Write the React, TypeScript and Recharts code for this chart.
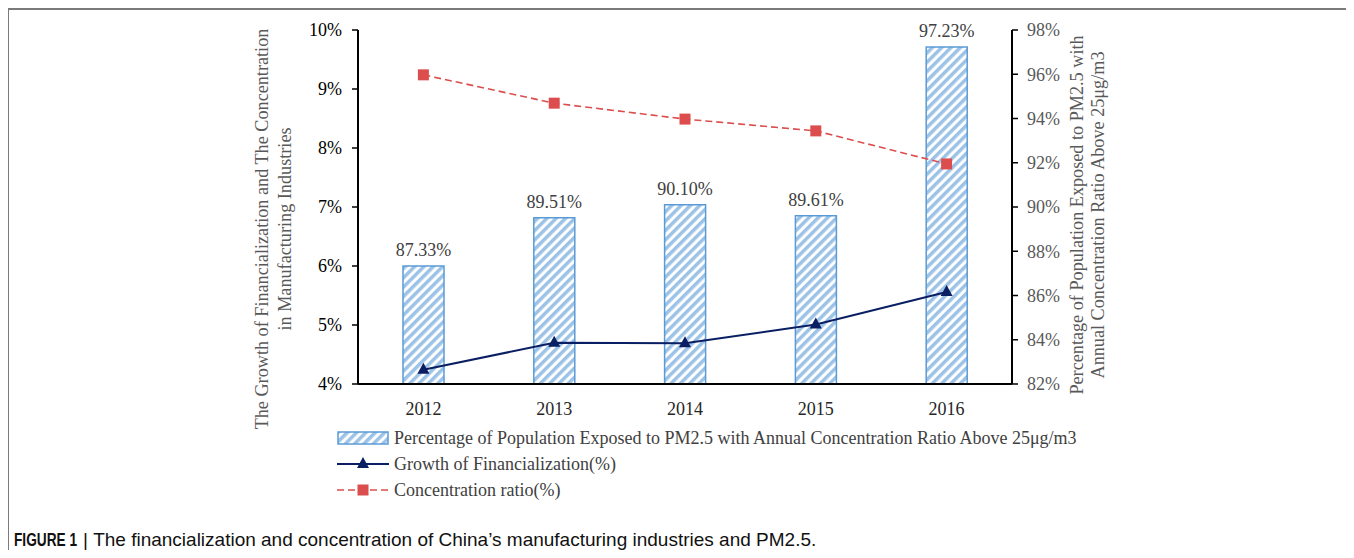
import React from 'react';
import { ComposedChart, Bar, Line, XAxis, YAxis, LabelList } from 'recharts';

const years = ['2012', '2013', '2014', '2015', '2016'];
const pm25Share = [87.33, 89.51, 90.1, 89.61, 97.23];
const financialGrowth = [4.24, 4.7, 4.69, 5.01, 5.56];
const concentrationRatio = [9.24, 8.76, 8.49, 8.29, 7.73];
const leftTicks = [4, 5, 6, 7, 8, 9, 10];
const rightTicks = [82, 84, 86, 88, 90, 92, 94, 96, 98];

const data = years.map((y, i) => ({
  year: y,
  pm: pm25Share[i],
  growth: financialGrowth[i],
  conc: concentrationRatio[i],
}));

const SERIF = '"Liberation Serif", "Times New Roman", serif';
const BAR_STROKE = '#5B9BD5';
const STRIPE = '#9CC3E7';
const NAVY = '#0A1F63';
const RED = '#DC4E4E';

const Triangle = (props: any) => {
  const { cx, cy } = props;
  if (cx == null || cy == null) return null;
  return <polygon points={`${cx},${cy - 7} ${cx + 6},${cy + 4} ${cx - 6},${cy + 4}`} fill={NAVY} />;
};

const Square = (props: any) => {
  const { cx, cy } = props;
  if (cx == null || cy == null) return null;
  return <rect x={cx - 5.5} y={cy - 5.5} width={11} height={11} fill={RED} />;
};

export default function App() {
  return (
    <div style={{ position: 'relative', width: 1338, height: 542, fontFamily: SERIF }}>
      <div
        style={{
          position: 'absolute',
          left: -1,
          top: 0,
          width: 1344,
          height: 560,
          borderTop: '2px solid #7a7a7a',
          borderLeft: '2px solid #7a7a7a',
          borderRight: '2px solid #7a7a7a',
          boxSizing: 'border-box',
        }}
      />
      <div style={{ position: 'absolute', left: 0, top: 0 }}>
        <ComposedChart width={1338} height={420} data={data} margin={{ top: 22, right: 0, bottom: 0, left: 0 }} barCategoryGap={45}>
          <defs>
            <pattern id="stripes" patternUnits="userSpaceOnUse" width="6.6" height="6.6" patternTransform="rotate(45)">
              <rect x="0" y="0" width="6.6" height="6.6" fill="#ffffff" />
              <rect x="0" y="0" width="3.5" height="6.6" fill={STRIPE} />
            </pattern>
          </defs>
          <XAxis
            dataKey="year"
            axisLine={{ stroke: '#000', strokeWidth: 2 }}
            tickLine={false}
            tick={{ fill: '#262626', fontSize: 18, fontFamily: SERIF }}
            tickMargin={12}
            height={44}
          />
          <YAxis
            yAxisId="left"
            orientation="left"
            domain={[4, 10]}
            ticks={leftTicks}
            width={350}
            axisLine={{ stroke: '#000', strokeWidth: 2 }}
            tickLine={{ stroke: '#000', strokeWidth: 1.5 }}
            tickSize={6}
            tickMargin={10}
            tick={{ fill: '#000', fontSize: 18, fontFamily: SERIF }}
            tickFormatter={(v: number) => `${v}%`}
          />
          <YAxis
            yAxisId="right"
            orientation="right"
            domain={[82, 98]}
            ticks={rightTicks}
            width={334}
            axisLine={{ stroke: '#000', strokeWidth: 2 }}
            tickLine={{ stroke: '#000', strokeWidth: 1.5 }}
            tickSize={6}
            tickMargin={9}
            tick={{ fill: '#595959', fontSize: 18, fontFamily: SERIF, textAnchor: 'start' }}
            tickFormatter={(v: number) => `${v}%`}
          />
          <Bar yAxisId="right" dataKey="pm" fill="url(#stripes)" stroke={BAR_STROKE} strokeWidth={1.5} barSize={41} isAnimationActive={false}>
            <LabelList
              dataKey="pm"
              position="top"
              offset={10}
              fill="#404040"
              fontSize={18}
              fontFamily={SERIF}
              formatter={(v: any) => `${Number(v).toFixed(2)}%`}
            />
          </Bar>
          <Line
            yAxisId="left"
            dataKey="growth"
            stroke={NAVY}
            strokeWidth={2}
            dot={<Triangle />}
            activeDot={false}
            isAnimationActive={false}
          />
          <Line
            yAxisId="left"
            dataKey="conc"
            stroke={RED}
            strokeWidth={1.6}
            strokeDasharray="7 4"
            dot={<Square />}
            activeDot={false}
            isAnimationActive={false}
          />
        </ComposedChart>
      </div>
      <svg style={{ position: 'absolute', left: 0, top: 0 }} width={1338} height={440} pointerEvents="none">
        <g fill="#595959" fontSize={18.2} fontFamily={SERIF} textAnchor="middle" dominantBaseline="central">
          <text transform="translate(254,221) rotate(-90)">The Growth of Financialization and The Concentration</text>
          <text transform="translate(277,221) rotate(-90)">in Manufacturing Industries</text>
          <text transform="translate(1069,207) rotate(-90)">Percentage of Population Exposed to PM2.5 with</text>
          <text transform="translate(1090,207) rotate(-90)">Annual Concentration Ratio Above 25μg/m3</text>
        </g>
      </svg>
      <div style={{ position: 'absolute', left: 329, top: 417, color: '#404040', fontSize: 18, fontFamily: SERIF }}>
        <div style={{ display: 'flex', alignItems: 'center', height: 26 }}>
          <svg width={52} height={14} style={{ marginRight: 5 }}>
            <rect x={1} y={1} width={50} height={12} fill="url(#stripes)" stroke={BAR_STROKE} strokeWidth={1.5} />
          </svg>
          <span>Percentage of Population Exposed to PM2.5 with Annual Concentration Ratio Above 25μg/m3</span>
        </div>
        <div style={{ display: 'flex', alignItems: 'center', height: 26 }}>
          <svg width={52} height={14} style={{ marginRight: 5 }}>
            <line x1={0} y1={7} x2={52} y2={7} stroke={NAVY} strokeWidth={2} />
            <polygon points="26,0 32,11 20,11" fill={NAVY} />
          </svg>
          <span>Growth of Financialization(%)</span>
        </div>
        <div style={{ display: 'flex', alignItems: 'center', height: 26 }}>
          <svg width={52} height={14} style={{ marginRight: 5 }}>
            <line x1={0} y1={7} x2={52} y2={7} stroke={RED} strokeWidth={1.6} strokeDasharray="7 4" />
            <rect x={20.5} y={1.5} width={11} height={11} fill={RED} />
          </svg>
          <span>Concentration ratio(%)</span>
        </div>
      </div>
      <div
        style={{
          position: 'absolute',
          left: 6,
          top: 521,
          fontFamily: '"Liberation Sans", Arial, sans-serif',
          fontSize: 19,
          color: '#111',
          whiteSpace: 'nowrap',
        }}
      >
        <span
          style={{
            fontWeight: 'bold',
            display: 'inline-block',
            transform: 'scaleX(0.72)',
            transformOrigin: 'left center',
            marginRight: -24,
          }}
        >
          FIGURE 1
        </span>
        <span style={{ fontWeight: 300 }}> | </span>
        <span style={{ display: 'inline-block', transform: 'scaleX(1.0)', transformOrigin: 'left center' }}>
          The financialization and concentration of China’s manufacturing industries and PM2.5.
        </span>
      </div>
    </div>
  );
}
